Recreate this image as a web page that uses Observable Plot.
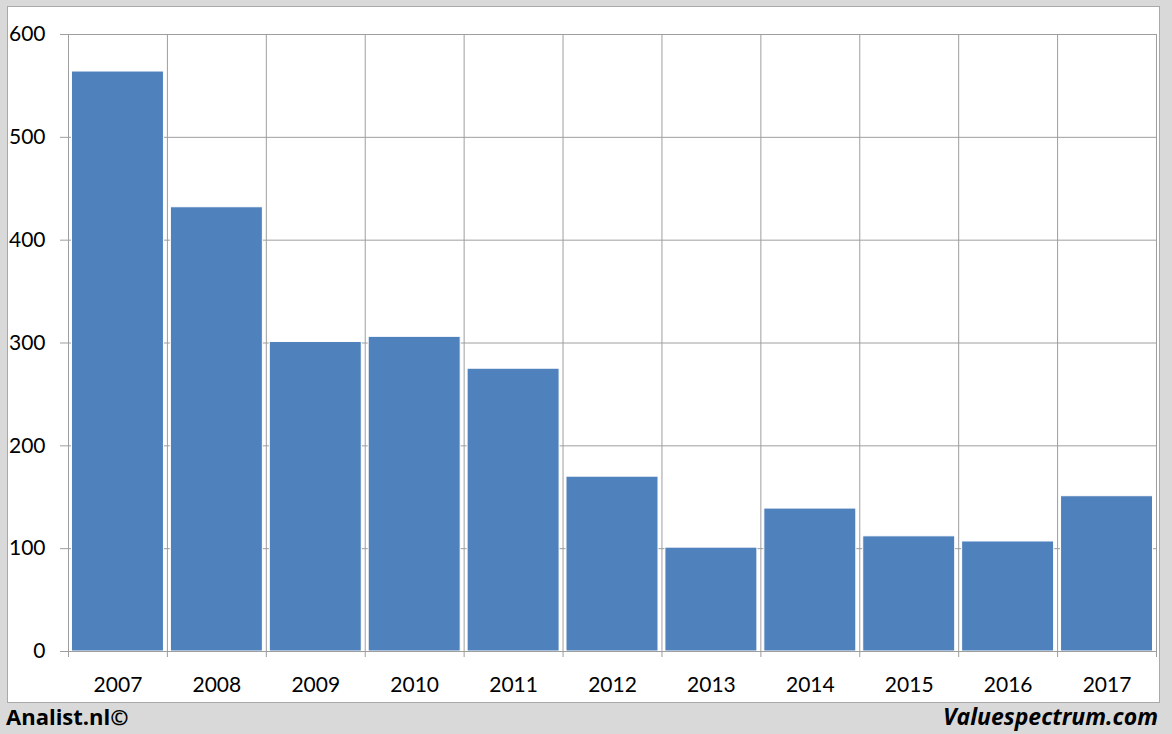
<!DOCTYPE html>
<html>
<head>
<meta charset="utf-8">
<script src="https://cdn.jsdelivr.net/npm/d3@7"></script>
<script src="https://cdn.jsdelivr.net/npm/@observablehq/plot@0.6"></script>
<style>
  html, body { margin: 0; padding: 0; }
  body { width: 1172px; height: 734px; background: #d9d9d9; position: relative; overflow: hidden; font-family: Lato, "Open Sans", sans-serif; }
  #panel { position: absolute; left: 7px; top: 6px; width: 1151px; height: 695px; background: #fff; border: 1px solid #a9a9a9; }
  #chart { position: absolute; left: 0; top: 0; }
  .foot { position: absolute; top: 701px; font-size: 22px; font-weight: bold; color: #000; font-family: "Open Sans", Lato, sans-serif; }
  #left { left: 6px; }
  #right { right: 14px; font-style: italic; font-size: 23px; top: 700px; }
</style>
</head>
<body>
<div id="panel"></div>
<div id="chart"></div>
<div class="foot" id="left">Analist.nl©</div>
<div class="foot" id="right">Valuespectrum.com</div>
<script>
const years = [2007, 2008, 2009, 2010, 2011, 2012, 2013, 2014, 2015, 2016, 2017];
const values = [564, 432, 301, 306, 275, 170, 101, 139, 112, 107, 151];
const yTicks = [0, 100, 200, 300, 400, 500, 600];

const data = years.map((year, i) => ({year, value: values[i]}));
const boundaries = years.map(y => y - 0.5).concat([years[years.length - 1] + 0.5]);

const chart = Plot.plot({
  width: 1172,
  height: 700,
  marginLeft: 68,
  marginRight: 16,
  marginTop: 34,
  marginBottom: 49,
  style: {background: "transparent", fontFamily: "Lato, sans-serif", fontSize: "21px", color: "#000"},
  x: {type: "linear", domain: [years[0] - 0.5, years[years.length - 1] + 0.5], label: null},
  y: {domain: [0, 600], label: null},
  marks: [
    Plot.ruleY(yTicks, {stroke: "#9e9e9e", strokeWidth: 1, strokeOpacity: 1}),
    Plot.ruleX(boundaries, {y1: 0, y2: 600, stroke: "#9e9e9e", strokeWidth: 1, strokeOpacity: 1}),
    Plot.axisX(boundaries, {tickSize: 6, text: null, stroke: "#9e9e9e", strokeOpacity: 1, label: null}),
    Plot.rectY(data, {x1: d => d.year - 0.465, x2: d => d.year + 0.465, y1: 0, y2: "value", fill: "#4f81bd", stroke: "#ffffff", strokeWidth: 1}),
    Plot.axisY(yTicks, {tickSize: 8, tickPadding: 15, stroke: "#9e9e9e", strokeOpacity: 1, fontSize: 21, tickFormat: d => String(d), label: null}),
    Plot.axisX(years, {tickSize: 0, tickPadding: 26, fontSize: 21, tickFormat: d => String(d), label: null}),
    Plot.ruleY([0], {stroke: "#9e9e9e"}),
    Plot.ruleX([years[0] - 0.5], {y1: 0, y2: 600, stroke: "#9e9e9e"})
  ]
});
document.getElementById("chart").appendChild(chart);
</script>
</body>
</html>
